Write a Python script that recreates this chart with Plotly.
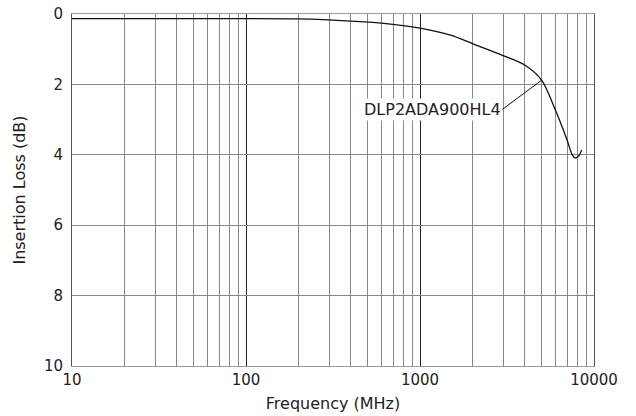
import plotly.graph_objects as go

# insertion loss curve
freq_mhz = [10, 20, 50, 100, 200, 400, 600, 1000, 1500, 2000, 3000, 4000, 5000,
            6000, 7000, 7500, 7800, 8200, 8500]
loss_db = [0.13, 0.13, 0.13, 0.13, 0.14, 0.20, 0.26, 0.40, 0.60, 0.84, 1.18, 1.45, 1.88,
           2.73, 3.58, 4.00, 4.09, 4.02, 3.86]

part_name = "DLP2ADA900HL4"
label_at = (5000, 1.88)

x_ticks = [10, 100, 1000, 10000]
y_ticks = [0, 2, 4, 6, 8, 10]

FONT = "DejaVu Sans"

fig = go.Figure()
fig.add_trace(go.Scatter(x=freq_mhz, y=loss_db, mode="lines",
                         line=dict(color="#111", width=1.3, shape="spline", smoothing=0.8),
                         showlegend=False))

fig.add_annotation(x=3.69897, y=label_at[1], text=part_name, showarrow=True,
                   arrowhead=0, arrowwidth=1, arrowcolor="#111", ax=-39, ay=29,
                   xanchor="right", yanchor="middle",
                   bgcolor="white", font=dict(size=16, color="#222", family=FONT), borderpad=1)

fig.update_xaxes(type="log", range=[1, 4], tickvals=x_ticks, ticktext=[str(v) for v in x_ticks],
                 showgrid=True, gridcolor="#222", gridwidth=1,
                 minor=dict(dtick="D1", showgrid=True, gridcolor="#888", gridwidth=1, ticks=""),
                 showline=True, linecolor="#999", linewidth=1, mirror=True,
                 ticks="", zeroline=False, automargin=False, ticklabeloverflow="allow",
                 title=dict(text="Frequency (MHz)", font=dict(size=16, color="#222"), standoff=9),
                 tickfont=dict(size=15, color="#222"))
fig.update_yaxes(range=[10, 0], tickvals=y_ticks, showgrid=True, gridcolor="#888", gridwidth=1,
                 showline=True, linecolor="#555", linewidth=1, mirror=True,
                 ticks="", zeroline=False, automargin=False, ticklabeloverflow="allow",
                 ticklabelstandoff=5,
                 title=dict(text="Insertion Loss (dB)", font=dict(size=16, color="#222"), standoff=14),
                 tickfont=dict(size=15, color="#222"))

fig.update_layout(width=636, height=416, template="simple_white",
                  font=dict(family=FONT),
                  margin=dict(l=72, r=42, t=14, b=50),
                  plot_bgcolor="white", paper_bgcolor="white")

# drop the default page margin so the figure fills the window exactly
fig.write_html("out.html", config={"displayModeBar": False},
               post_script="document.body.style.margin='0';document.body.style.overflow='hidden';")
